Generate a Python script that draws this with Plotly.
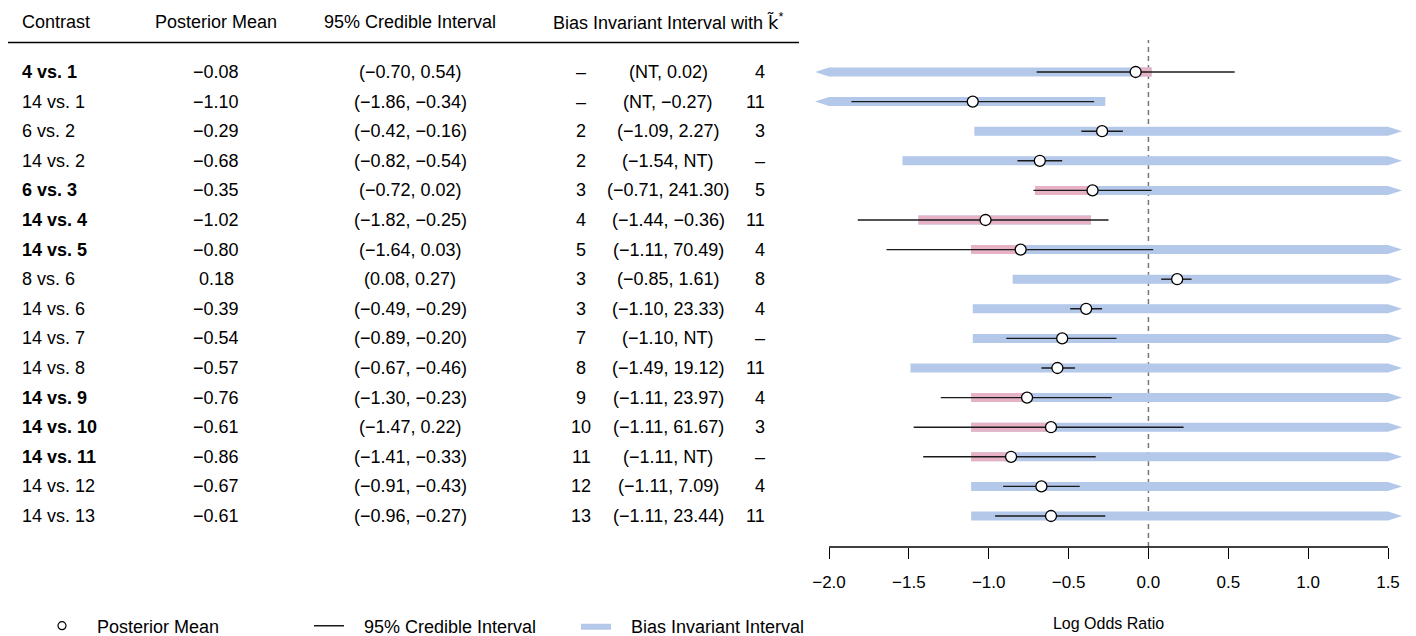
import plotly.graph_objects as go

# ---------------- data ----------------
contrasts = ["4 vs. 1", "14 vs. 1", "6 vs. 2", "14 vs. 2", "6 vs. 3", "14 vs. 4", "14 vs. 5",
             "8 vs. 6", "14 vs. 6", "14 vs. 7", "14 vs. 8", "14 vs. 9", "14 vs. 10",
             "14 vs. 11", "14 vs. 12", "14 vs. 13"]
bold = [True, False, False, False, True, True, True, False, False, False, False,
        True, True, True, False, False]
post_mean = [-0.08, -1.10, -0.29, -0.68, -0.35, -1.02, -0.80, 0.18, -0.39, -0.54,
             -0.57, -0.76, -0.61, -0.86, -0.67, -0.61]
cri_lo = [-0.70, -1.86, -0.42, -0.82, -0.72, -1.82, -1.64, 0.08, -0.49, -0.89,
          -0.67, -1.30, -1.47, -1.41, -0.91, -0.96]
cri_hi = [0.54, -0.34, -0.16, -0.54, 0.02, -0.25, 0.03, 0.27, -0.29, -0.20,
          -0.46, -0.23, 0.22, -0.33, -0.43, -0.27]
k_ref = [None, None, 2, 2, 3, 4, 5, 3, 3, 7, 8, 9, 10, 11, 12, 13]
bii_lo = [None, None, -1.09, -1.54, -0.71, -1.44, -1.11, -0.85, -1.10, -1.10,
          -1.49, -1.11, -1.11, -1.11, -1.11, -1.11]
bii_hi = [0.02, -0.27, 2.27, None, 241.30, -0.36, 70.49, 1.61, 23.33, None,
          19.12, 23.97, 61.67, None, 7.09, 23.44]
k_star = [4, 11, 3, None, 5, 11, 4, 8, 4, None, 11, 4, 3, None, 4, 11]
pink_lo = [-0.08, None, None, None, -0.71, -1.44, -1.11, None, None, None, None,
           -1.11, -1.11, -1.11, None, None]
pink_hi = [0.02, None, None, None, -0.35, -0.36, -0.80, None, None, None, None,
           -0.76, -0.61, -0.86, None, None]
x_ticks = [-2.0, -1.5, -1.0, -0.5, 0.0, 0.5, 1.0, 1.5]

headers = ["Contrast", "Posterior Mean", "95% Credible Interval",
           "Bias Invariant Interval with "
           "<span style='font-family:DejaVu Sans'>k\u0303</span><sup>*</sup>"]

# ---------------- helpers ----------------
W, H = 1416, 636
BLUE = "#b4c8ea"
PINK = "#e8b2c6"
FONT = "Liberation Sans, Arial, Helvetica, sans-serif"
AX_MIN, AX_MAX = x_ticks[0], x_ticks[-1]
TIP = 0.088
HALF = 0.152
NB = "\u00a0\u00a0\u00a0"


def px(v):
    return v / W


def py(v):
    return 1 - v / H


def num(v, d=2):
    return f"{v:.{d}f}".replace("-", "\u2212")


def band(lo, hi, y, xs, ys):
    left_arrow = lo is None or lo < AX_MIN
    right_arrow = hi is None or hi > AX_MAX
    left = AX_MIN if left_arrow else lo
    right = AX_MAX if right_arrow else hi
    xs += [left, right]
    ys += [y - HALF, y - HALF]
    if right_arrow:
        xs.append(right + TIP)
        ys.append(y)
    xs += [right, left]
    ys += [y + HALF, y + HALF]
    if left_arrow:
        xs.append(left - TIP)
        ys.append(y)
    xs.append(None)
    ys.append(None)


rows = list(range(1, len(contrasts) + 1))

bx, by = [], []
for lo, hi, r in zip(bii_lo, bii_hi, rows):
    band(lo, hi, r, bx, by)

kx, ky = [], []
for lo, hi, r in zip(pink_lo, pink_hi, rows):
    if lo is not None:
        band(lo, hi, r, kx, ky)

cx, cy = [], []
for lo, hi, r in zip(cri_lo, cri_hi, rows):
    cx += [lo, hi, None]
    cy += [r, r, None]

fig = go.Figure()
fig.add_trace(go.Scatter(x=bx, y=by, mode="lines", fill="toself", fillcolor=BLUE,
                         line=dict(width=0, color=BLUE), name=NB + "Bias Invariant Interval",
                         legendrank=3, hoverinfo="skip"))
fig.add_trace(go.Scatter(x=kx, y=ky, mode="lines", fill="toself", fillcolor=PINK,
                         line=dict(width=0, color=PINK), showlegend=False, hoverinfo="skip"))
fig.add_trace(go.Scatter(x=cx, y=cy, mode="lines", line=dict(color="#1a1a1a", width=1.4),
                         name=NB + "95% Credible Interval", legendrank=2))
fig.add_trace(go.Scatter(x=post_mean, y=rows, mode="markers",
                         marker=dict(symbol="circle", size=11, color="white",
                                     line=dict(color="black", width=1.3)),
                         name="Posterior Mean", showlegend=False))
# legend proxy for the smaller legend circle
fig.add_trace(go.Scatter(x=[None], y=[None], mode="markers",
                         marker=dict(symbol="circle", size=8, color="white",
                                     line=dict(color="black", width=1.2)),
                         name=NB + "Posterior Mean", legendrank=1))

# ---------------- table ----------------
TF = 18
ann = []
hy = py(22)
for xpix, anc, txt in [(20, "left", headers[0]), (216, "center", headers[1]),
                       (410, "center", headers[2]), (668, "center", headers[3])]:
    ann.append(dict(x=px(xpix), y=hy, xref="paper", yref="paper", text=txt,
                    xanchor=anc, yanchor="middle", showarrow=False))

for i, r in enumerate(rows):
    name = f"<b>{contrasts[i]}</b>" if bold[i] else contrasts[i]
    lo_s = "NT" if bii_lo[i] is None else num(bii_lo[i])
    hi_s = "NT" if bii_hi[i] is None else num(bii_hi[i])
    cells = [
        (20, "left", name),
        (216, "center", num(post_mean[i])),
        (410, "center", f"({num(cri_lo[i])}, {num(cri_hi[i])})"),
        (581, "center", "\u2013" if k_ref[i] is None else str(k_ref[i])),
        (668, "center", f"({lo_s}, {hi_s})"),
        (767, "right", "\u2013" if k_star[i] is None else str(k_star[i])),
    ]
    for xpix, anc, txt in cells:
        ann.append(dict(x=px(xpix), y=r, xref="paper", yref="y", text=txt,
                        xanchor=anc, yanchor="middle", showarrow=False))

shapes = [
    dict(type="line", xref="paper", yref="paper", x0=px(8), x1=px(799),
         y0=py(42.5), y1=py(42.5), line=dict(color="black", width=1.3)),
    dict(type="line", xref="x", yref="y domain", x0=0, x1=0, y0=0, y1=1, layer="below",
         line=dict(color="#777777", width=1.5, dash="5px,4px")),
    dict(type="line", xref="x", yref="y domain", x0=AX_MIN, x1=AX_MAX, y0=0, y1=0,
         line=dict(color="black", width=1.3)),
]

# pixel mapping of the forest plot
UNIT = (1388 - 829) / (AX_MAX - AX_MIN)
XR = [-2.15, 1.65]
xl = 829 - (AX_MIN - XR[0]) * UNIT
xr = 1388 + (XR[1] - AX_MAX) * UNIT
ROW = (516 - 72) / 15
top_px, bot_px = 40, 547
YR = [16 + (bot_px - 516) / ROW, 1 - (72 - top_px) / ROW]

fig.update_layout(
    width=W, height=H,
    margin=dict(l=0, r=0, t=0, b=0, autoexpand=False),
    paper_bgcolor="white", plot_bgcolor="rgba(0,0,0,0)",
    font=dict(family=FONT, size=TF, color="black"),
    annotations=ann, shapes=shapes,
    showlegend=True,
    legend=dict(orientation="h", x=px(42), y=py(626), xanchor="left", yanchor="middle",
                itemwidth=30, entrywidth=222, entrywidthmode="pixels",
                font=dict(size=TF), bgcolor="rgba(0,0,0,0)", traceorder="normal"),
    xaxis=dict(domain=[xl / W, xr / W], range=XR, showgrid=False, zeroline=False,
               showline=False, tickmode="array", tickvals=x_ticks,
               ticktext=[num(v, 1) for v in x_ticks],
               ticks="outside", ticklen=11, tickwidth=1.3, tickcolor="black",
               ticklabelstandoff=9, tickfont=dict(size=17),
               title=dict(text="Log Odds Ratio", font=dict(size=16), standoff=26),
               automargin=False, fixedrange=True),
    yaxis=dict(domain=[py(bot_px), py(top_px)], range=YR, visible=False,
               showgrid=False, zeroline=False, fixedrange=True),
)

fig.write_html("out.html")
